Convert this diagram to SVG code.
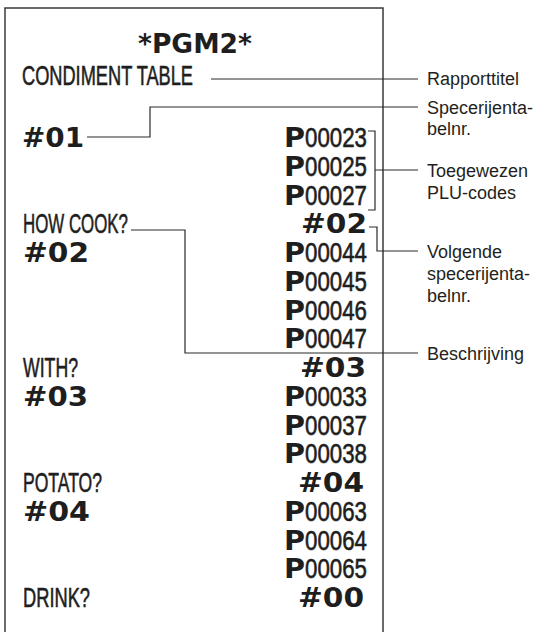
<svg xmlns="http://www.w3.org/2000/svg" width="538" height="632" viewBox="0 0 538 632">
<style>
.paper{fill:#fff;stroke:#3a3a3a;stroke-width:1.5}
.cond{font-family:"Liberation Sans",Arial,sans-serif;font-size:28px;fill:#1e1e1e;stroke:#1e1e1e;stroke-width:0.6}
.bold{font-family:"DejaVu Sans",Verdana,sans-serif;font-weight:bold;font-size:27px;fill:#1e1e1e}
.lbl{font-family:"Liberation Sans",Arial,sans-serif;font-size:18px;fill:#231f20}
.ln{fill:none;stroke:#2a2a2a;stroke-width:1.2}
</style>
<rect width="538" height="632" fill="#fff"/>
<g id="receipt">
<path class="paper" d="M5,640 V8 H383 V640"/>
<text class="bold" x="138" y="53" font-size="22" textLength="114" lengthAdjust="spacingAndGlyphs">*PGM2*</text>
<text class="cond" x="22" y="85" font-size="27" textLength="171" lengthAdjust="spacingAndGlyphs">CONDIMENT TABLE</text>
<text class="bold" x="22" y="147" textLength="62" lengthAdjust="spacingAndGlyphs">#01</text>
<text class="cond" x="23" y="233" textLength="105" lengthAdjust="spacingAndGlyphs">HOW COOK?</text>
<text class="bold" x="23" y="262" textLength="66" lengthAdjust="spacingAndGlyphs">#02</text>
<text class="cond" x="23" y="377" textLength="55" lengthAdjust="spacingAndGlyphs">WITH?</text>
<text class="bold" x="23" y="406" textLength="65" lengthAdjust="spacingAndGlyphs">#03</text>
<text class="cond" x="23" y="492" textLength="79" lengthAdjust="spacingAndGlyphs">POTATO?</text>
<text class="bold" x="23" y="521" textLength="67" lengthAdjust="spacingAndGlyphs">#04</text>
<text class="cond" x="23" y="607" textLength="67" lengthAdjust="spacingAndGlyphs">DRINK?</text>
</g>
<g id="codes">
<g id="c01"><text class="bold" x="284" y="147" textLength="21" lengthAdjust="spacingAndGlyphs">P</text><text class="cond" x="305" y="147" textLength="62" lengthAdjust="spacingAndGlyphs">00023</text></g>
<g id="c02"><text class="bold" x="284" y="175.75" textLength="21" lengthAdjust="spacingAndGlyphs">P</text><text class="cond" x="305" y="175.75" textLength="62" lengthAdjust="spacingAndGlyphs">00025</text></g>
<g id="c03"><text class="bold" x="284" y="204.5" textLength="21" lengthAdjust="spacingAndGlyphs">P</text><text class="cond" x="305" y="204.5" textLength="62" lengthAdjust="spacingAndGlyphs">00027</text></g>
<g id="n02"><text class="bold" x="301" y="233.25" textLength="66" lengthAdjust="spacingAndGlyphs">#02</text></g>
<g id="c04"><text class="bold" x="284" y="262" textLength="21" lengthAdjust="spacingAndGlyphs">P</text><text class="cond" x="305" y="262" textLength="62" lengthAdjust="spacingAndGlyphs">00044</text></g>
<g id="c05"><text class="bold" x="284" y="290.75" textLength="21" lengthAdjust="spacingAndGlyphs">P</text><text class="cond" x="305" y="290.75" textLength="62" lengthAdjust="spacingAndGlyphs">00045</text></g>
<g id="c06"><text class="bold" x="284" y="319.5" textLength="21" lengthAdjust="spacingAndGlyphs">P</text><text class="cond" x="305" y="319.5" textLength="62" lengthAdjust="spacingAndGlyphs">00046</text></g>
<g id="c07"><text class="bold" x="284" y="348.25" textLength="21" lengthAdjust="spacingAndGlyphs">P</text><text class="cond" x="305" y="348.25" textLength="62" lengthAdjust="spacingAndGlyphs">00047</text></g>
<g id="n03"><text class="bold" x="300" y="377" textLength="66" lengthAdjust="spacingAndGlyphs">#03</text></g>
<g id="c08"><text class="bold" x="284" y="405.75" textLength="21" lengthAdjust="spacingAndGlyphs">P</text><text class="cond" x="305" y="405.75" textLength="62" lengthAdjust="spacingAndGlyphs">00033</text></g>
<g id="c09"><text class="bold" x="284" y="434.5" textLength="21" lengthAdjust="spacingAndGlyphs">P</text><text class="cond" x="305" y="434.5" textLength="62" lengthAdjust="spacingAndGlyphs">00037</text></g>
<g id="c10"><text class="bold" x="284" y="463.25" textLength="21" lengthAdjust="spacingAndGlyphs">P</text><text class="cond" x="305" y="463.25" textLength="62" lengthAdjust="spacingAndGlyphs">00038</text></g>
<g id="n04"><text class="bold" x="298" y="492" textLength="66" lengthAdjust="spacingAndGlyphs">#04</text></g>
<g id="c11"><text class="bold" x="284" y="520.75" textLength="21" lengthAdjust="spacingAndGlyphs">P</text><text class="cond" x="305" y="520.75" textLength="62" lengthAdjust="spacingAndGlyphs">00063</text></g>
<g id="c12"><text class="bold" x="284" y="549.5" textLength="21" lengthAdjust="spacingAndGlyphs">P</text><text class="cond" x="305" y="549.5" textLength="62" lengthAdjust="spacingAndGlyphs">00064</text></g>
<g id="c13"><text class="bold" x="284" y="578.25" textLength="21" lengthAdjust="spacingAndGlyphs">P</text><text class="cond" x="305" y="578.25" textLength="62" lengthAdjust="spacingAndGlyphs">00065</text></g>
<g id="n00"><text class="bold" x="298" y="607" textLength="66" lengthAdjust="spacingAndGlyphs">#00</text></g>
</g>
<g id="connectors">
<path class="ln" d="M211,79 H418"/>
<path class="ln" d="M87,137 H150 V107 H418"/>
<path class="ln" d="M368,131 H375 V210 H368 M375,170 H418"/>
<path class="ln" d="M369,227 H377 V251 H418"/>
<path class="ln" d="M131,230 H185 V353 H418"/>
</g>
<g id="labels">
<g id="l-title"><text class="lbl" x="427" y="85">Rapporttitel</text></g>
<g id="l-table"><text class="lbl" x="427" y="114">Specerijenta-</text><text class="lbl" x="427" y="135">belnr.</text></g>
<g id="l-plu"><text class="lbl" x="427" y="177">Toegewezen</text><text class="lbl" x="427" y="199">PLU-codes</text></g>
<g id="l-next"><text class="lbl" x="427" y="258">Volgende</text><text class="lbl" x="427" y="280">specerijenta-</text><text class="lbl" x="427" y="302">belnr.</text></g>
<g id="l-desc"><text class="lbl" x="427" y="360">Beschrijving</text></g>
</g>
</svg>
